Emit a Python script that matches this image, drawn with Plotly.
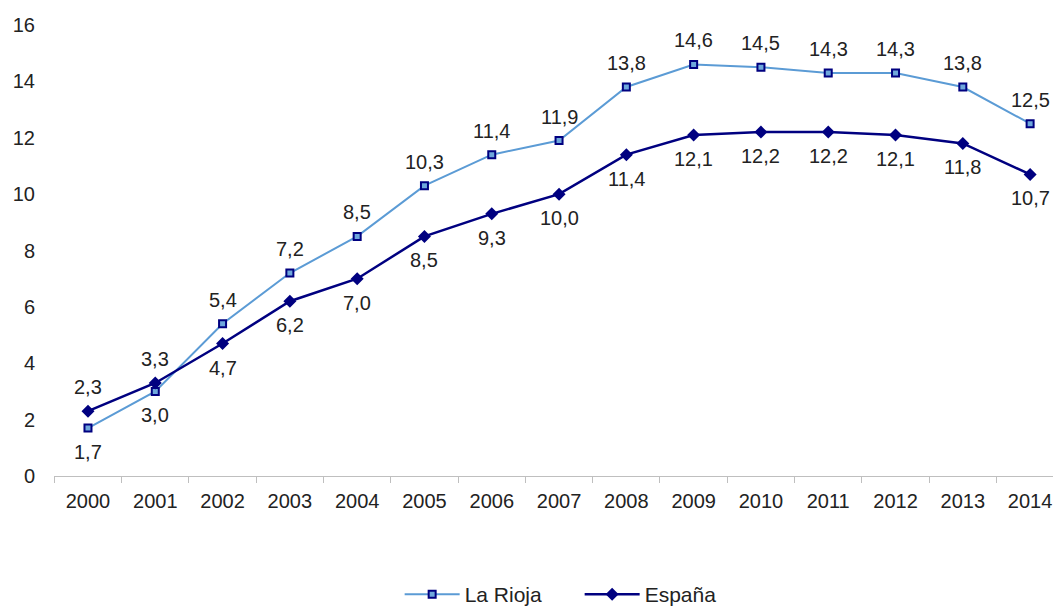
import plotly.graph_objects as go

years = [str(y) for y in range(2000, 2015)]
la_rioja = [1.7, 3.0, 5.4, 7.2, 8.5, 10.3, 11.4, 11.9, 13.8, 14.6, 14.5, 14.3, 14.3, 13.8, 12.5]
espana = [2.3, 3.3, 4.7, 6.2, 7.0, 8.5, 9.3, 10.0, 11.4, 12.1, 12.2, 12.2, 12.1, 11.8, 10.7]

# +1 label above the point, -1 below
rioja_side = [-1, -1] + [1] * 13
espana_side = [1, 1] + [-1] * 13

def fmt(v):
    return f"{v:.1f}".replace(".", ",")

fig = go.Figure()
fig.add_trace(go.Scatter(
    x=years, y=la_rioja, name="La Rioja", mode="lines+markers",
    line=dict(color="#5b9bd5", width=2),
    marker=dict(symbol="square", size=7, color="#6fa8dc", line=dict(color="#000080", width=2)),
))
fig.add_trace(go.Scatter(
    x=years, y=espana, name="España", mode="lines+markers",
    line=dict(color="#000080", width=2.5),
    marker=dict(symbol="diamond", size=10, color="#000080"),
))

annotations = []
for series, sides in ((la_rioja, rioja_side), (espana, espana_side)):
    for i, (v, s) in enumerate(zip(series, sides)):
        annotations.append(dict(
            x=i, y=v, xref="x", yref="y", text=fmt(v), showarrow=False,
            yshift=24 * s, font=dict(size=20, color="#222222"),
            xanchor="center", yanchor="middle",
        ))

fig.update_layout(
    width=1053, height=615,
    margin=dict(l=54, r=0, t=25, b=139),
    paper_bgcolor="white", plot_bgcolor="white",
    font=dict(family="Liberation Sans, Arial, sans-serif", size=20, color="#222222"),
    xaxis=dict(type="category", range=[-0.505, 14.34], showgrid=False,
               showline=True, linecolor="#bfbfbf", linewidth=1,
               ticks="outside", tickson="boundaries", ticklen=6, tickcolor="#bfbfbf",
               tickfont=dict(size=20), ticklabelstandoff=7),
    yaxis=dict(range=[0, 16], dtick=2, showgrid=False, zeroline=False,
               showline=False, tickfont=dict(size=20), ticklabelstandoff=18),
    legend=dict(orientation="h", x=0.346, xanchor="left", yref="container", y=-0.015,
                yanchor="bottom", font=dict(size=21), itemwidth=55,
                entrywidth=110, entrywidthmode="pixels"),
    annotations=annotations,
    showlegend=True,
)

fig.write_html(
    "out.html",
    config={"displayModeBar": False},
    post_script="document.body.style.margin='0';document.body.style.overflow='hidden';",
)
